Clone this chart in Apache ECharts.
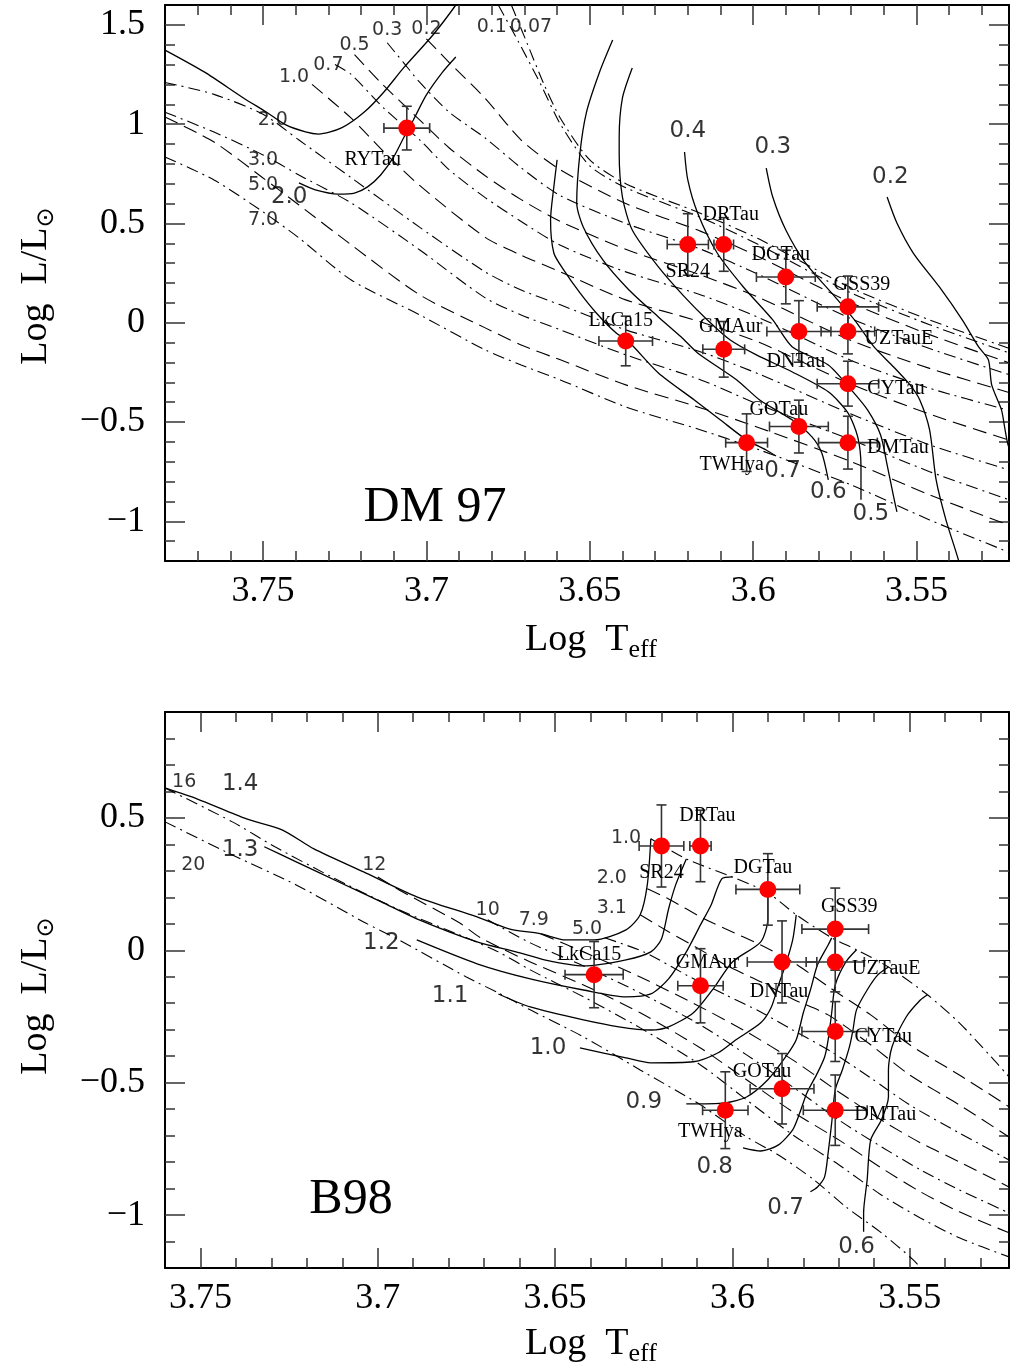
<!DOCTYPE html>
<html><head><meta charset="utf-8">
<script src="https://cdn.jsdelivr.net/npm/echarts@6/dist/echarts.min.js"></script>
<style>html,body{margin:0;padding:0;background:#fff}#c{width:1010px;height:1370px}</style>
</head><body><div id="c"></div>
<script>
// ---------------- DATA ----------------
const starNames = ['RYTau','SR24','DRTau','DGTau','GSS39','UZTauE','DNTau','GMAur','LkCa15','CYTau','GOTau','DMTau','TWHya'];
const starTeff  = [3.706,3.620,3.609,3.590,3.571,3.571,3.586,3.609,3.639,3.571,3.586,3.571,3.602];
const starLogL  = [0.98,0.394,0.394,0.23,0.08,-0.044,-0.044,-0.134,-0.092,-0.307,-0.523,-0.604,-0.604];
const starTeffErr = [0.007,0.0063,0.003,0.009,0.0094,0.0082,0.0098,0.0064,0.0082,0.0094,0.009,0.009,0.0064];
const starLogLErr = [0.11,0.155,0.135,0.135,0.155,0.113,0.155,0.14,0.125,0.113,0.133,0.133,0.145];

// DM97 mass tracks
const dmTrackHi = [[3.780,1.373],[3.768,1.263],[3.756,1.132],[3.749,1.061],[3.743,0.996],[3.737,0.961],[3.733,0.950],[3.726,0.981],[3.719,1.061],[3.713,1.162],[3.707,1.283],[3.698,1.449],[3.691,1.600],[3.688,1.68]];
const dmTrack20 = [[3.739,0.704],[3.734,0.669],[3.727,0.648],[3.722,0.653],[3.718,0.684],[3.714,0.744],[3.710,0.835],[3.707,0.930],[3.704,1.021],[3.700,1.147],[3.695,1.263],[3.691,1.338]];
const dmTrack07 = [[3.660,0.820],[3.661,0.684],[3.662,0.518],[3.661,0.351],[3.658,0.266],[3.653,0.150],[3.648,0.049],[3.642,-0.051],[3.638,-0.097],[3.629,-0.253],[3.618,-0.389],[3.610,-0.490],[3.602,-0.590],[3.596,-0.641],[3.593,-0.671]];
const dmTrack06 = [[3.643,1.424],[3.647,1.263],[3.651,1.061],[3.653,0.855],[3.654,0.603],[3.652,0.482],[3.646,0.316],[3.638,0.165],[3.629,0.029],[3.622,-0.072],[3.617,-0.152],[3.605,-0.288],[3.598,-0.389],[3.588,-0.490],[3.582,-0.575],[3.579,-0.656],[3.577,-0.792]];
const dmTrack05 = [[3.637,1.283],[3.640,1.132],[3.641,0.930],[3.641,0.855],[3.640,0.633],[3.637,0.467],[3.629,0.281],[3.621,0.130],[3.614,0.014],[3.607,-0.087],[3.599,-0.162],[3.588,-0.248],[3.577,-0.348],[3.571,-0.454],[3.568,-0.575],[3.567,-0.726],[3.567,-0.892]];
const dmTrack04 = [[3.621,0.860],[3.620,0.719],[3.617,0.553],[3.611,0.351],[3.603,0.180],[3.594,0.014],[3.588,-0.122],[3.577,-0.213],[3.570,-0.338],[3.565,-0.439],[3.561,-0.565],[3.559,-0.716],[3.557,-0.877],[3.556,-0.953]];
const dmTrack03 = [[3.596,0.779],[3.594,0.633],[3.590,0.467],[3.584,0.301],[3.576,0.150],[3.569,0.014],[3.563,-0.122],[3.557,-0.223],[3.552,-0.313],[3.549,-0.389],[3.546,-0.540],[3.544,-0.792],[3.541,-0.993],[3.537,-1.205],[3.536,-1.30]];
const dmTrack02 = [[3.559,0.633],[3.556,0.502],[3.551,0.351],[3.543,0.180],[3.536,0.014],[3.531,-0.122],[3.528,-0.187],[3.527,-0.313],[3.524,-0.439],[3.523,-0.530],[3.522,-0.615],[3.520,-0.691]];

// DM97 isochrones (Myr)
const dmIso007 = [[3.674,1.60],[3.669,1.40],[3.664,1.20],[3.659,1.03],[3.650,0.82],[3.639,0.70],[3.616,0.55],[3.598,0.42],[3.570,0.175],[3.546,0.014],[3.522,-0.127]];
const dmIso01  = [[3.678,1.60],[3.672,1.42],[3.665,1.20],[3.659,1.00],[3.650,0.79],[3.639,0.68],[3.616,0.53],[3.598,0.39],[3.570,0.15],[3.546,-0.01],[3.522,-0.15]];
const dmIso02  = [[3.700,1.43],[3.693,1.31],[3.682,1.13],[3.671,0.92],[3.659,0.77],[3.639,0.60],[3.616,0.46],[3.598,0.33],[3.570,0.10],[3.546,-0.06],[3.522,-0.20]];
const dmIso03  = [[3.712,1.41],[3.707,1.31],[3.702,1.21],[3.693,1.06],[3.682,0.93],[3.671,0.78],[3.659,0.64],[3.639,0.50],[3.616,0.37],[3.598,0.24],[3.570,0.02],[3.546,-0.13],[3.522,-0.26]];
const dmIso05  = [[3.722,1.35],[3.714,1.21],[3.702,1.02],[3.693,0.88],[3.682,0.74],[3.671,0.62],[3.659,0.51],[3.639,0.37],[3.616,0.24],[3.598,0.125],[3.570,-0.09],[3.546,-0.23],[3.522,-0.35]];
const dmIso07  = [[3.728,1.30],[3.723,1.25],[3.713,1.08],[3.702,0.92],[3.693,0.77],[3.682,0.63],[3.671,0.51],[3.659,0.39],[3.639,0.256],[3.616,0.14],[3.598,0.024],[3.570,-0.19],[3.546,-0.33],[3.522,-0.44]];
const dmIso10  = [[3.735,1.20],[3.723,1.03],[3.713,0.86],[3.702,0.69],[3.682,0.43],[3.671,0.34],[3.659,0.256],[3.639,0.115],[3.616,0.004],[3.598,-0.10],[3.570,-0.31],[3.546,-0.46],[3.522,-0.59]];
const dmIso20  = [[3.780,1.21],[3.765,1.15],[3.750,1.05],[3.739,0.92],[3.723,0.73],[3.702,0.48],[3.682,0.256],[3.671,0.165],[3.659,0.09],[3.639,-0.036],[3.616,-0.147],[3.598,-0.26],[3.570,-0.46],[3.546,-0.615],[3.522,-0.74]];
const dmIso30  = [[3.780,1.06],[3.765,0.96],[3.750,0.845],[3.739,0.744],[3.723,0.603],[3.702,0.366],[3.682,0.125],[3.671,0.039],[3.659,-0.036],[3.639,-0.162],[3.616,-0.288],[3.598,-0.414],[3.570,-0.59],[3.546,-0.75],[3.522,-0.89]];
const dmIso50  = [[3.780,1.036],[3.765,0.91],[3.750,0.729],[3.739,0.593],[3.723,0.392],[3.702,0.14],[3.682,-0.026],[3.671,-0.112],[3.659,-0.187],[3.639,-0.313],[3.616,-0.429],[3.598,-0.53],[3.570,-0.70],[3.546,-0.867],[3.522,-1.018]];
const dmIso70  = [[3.780,0.835],[3.765,0.719],[3.750,0.558],[3.739,0.427],[3.723,0.215],[3.702,0.039],[3.682,-0.137],[3.671,-0.213],[3.659,-0.288],[3.639,-0.424],[3.616,-0.54],[3.598,-0.641],[3.570,-0.817],[3.546,-0.993],[3.522,-1.154]];

// B98 mass tracks
const bTrack14 = [[3.760,0.613],[3.751,0.572],[3.737,0.496],[3.727,0.455],[3.718,0.383],[3.704,0.296],[3.689,0.202],[3.672,0.126],[3.663,0.081],[3.654,0.062],[3.647,0.039],[3.639,0.039],[3.630,0.077],[3.626,0.134],[3.624,0.247],[3.623,0.421]];
const bTrack13 = [[3.732,0.391],[3.723,0.334],[3.711,0.258],[3.699,0.183],[3.689,0.119],[3.672,0.032],[3.661,-0.006],[3.653,-0.036],[3.642,-0.059],[3.630,-0.036],[3.623,-0.006],[3.620,0.043],[3.618,0.156],[3.616,0.247],[3.613,0.345]];
const bTrack12 = [[3.689,0.039],[3.672,-0.051],[3.657,-0.108],[3.642,-0.150],[3.630,-0.176],[3.623,-0.165],[3.618,-0.108],[3.613,-0.006],[3.609,0.096],[3.606,0.171],[3.603,0.270],[3.600,0.277]];
const bTrack11 = [[3.666,-0.165],[3.657,-0.214],[3.642,-0.263],[3.632,-0.289],[3.623,-0.301],[3.618,-0.289],[3.611,-0.236],[3.605,-0.138],[3.600,-0.044],[3.592,0.032],[3.590,0.119],[3.590,0.217]];
const bTrack10 = [[3.643,-0.369],[3.630,-0.406],[3.623,-0.425],[3.611,-0.421],[3.604,-0.387],[3.599,-0.338],[3.592,-0.274],[3.589,-0.214],[3.587,-0.131],[3.585,-0.055],[3.583,0.039],[3.582,0.134]];
const bTrack09 = [[3.613,-0.580],[3.602,-0.576],[3.596,-0.554],[3.590,-0.489],[3.585,-0.403],[3.582,-0.338],[3.580,-0.236],[3.578,-0.150],[3.576,-0.055],[3.573,0.020],[3.572,0.047]];
const bTrack08 = [[3.597,-0.746],[3.592,-0.758],[3.587,-0.735],[3.583,-0.678],[3.581,-0.614],[3.579,-0.539],[3.576,-0.463],[3.574,-0.403],[3.573,-0.338],[3.572,-0.236],[3.571,-0.131],[3.568,-0.044],[3.565,0.002]];
const bTrack07 = [[3.578,-0.912],[3.576,-0.894],[3.574,-0.856],[3.573,-0.765],[3.572,-0.652],[3.571,-0.527],[3.569,-0.452],[3.567,-0.365],[3.566,-0.301],[3.565,-0.225],[3.562,-0.150],[3.559,-0.093],[3.556,-0.063]];
const bTrack06 = [[3.563,-1.063],[3.563,-0.992],[3.562,-0.867],[3.561,-0.716],[3.558,-0.641],[3.556,-0.554],[3.556,-0.452],[3.555,-0.365],[3.551,-0.252],[3.547,-0.188],[3.545,-0.168]];

// B98 isochrones (Myr)
const bIso10  = [[3.623,0.421],[3.613,0.345],[3.600,0.277],[3.590,0.217],[3.582,0.134],[3.572,0.047],[3.565,0.002],[3.556,-0.063],[3.545,-0.168],[3.536,-0.274],[3.527,-0.403],[3.522,-0.478]];
const bIso20  = [[3.624,0.232],[3.618,0.194],[3.608,0.119],[3.602,0.081],[3.592,0.020],[3.583,-0.044],[3.572,-0.146],[3.561,-0.244],[3.550,-0.357],[3.536,-0.471],[3.522,-0.591]];
const bIso31  = [[3.626,0.134],[3.618,0.070],[3.608,-0.006],[3.602,-0.055],[3.592,-0.119],[3.583,-0.184],[3.573,-0.244],[3.561,-0.357],[3.550,-0.471],[3.536,-0.584],[3.522,-0.705]];
const bIso50  = [[3.636,0.047],[3.625,-0.006],[3.613,-0.093],[3.602,-0.168],[3.592,-0.233],[3.583,-0.301],[3.572,-0.384],[3.561,-0.482],[3.550,-0.584],[3.536,-0.690],[3.522,-0.792]];
const bIso79  = [[3.654,0.062],[3.642,-0.006],[3.626,-0.101],[3.609,-0.214],[3.596,-0.308],[3.583,-0.414],[3.570,-0.535],[3.558,-0.641],[3.547,-0.727],[3.536,-0.799],[3.522,-0.894]];
const bIso100 = [[3.669,0.115],[3.657,0.028],[3.642,-0.059],[3.626,-0.161],[3.609,-0.282],[3.596,-0.395],[3.583,-0.516],[3.570,-0.641],[3.558,-0.742],[3.547,-0.829],[3.536,-0.905],[3.522,-0.992]];
const bIso120 = [[3.700,0.277],[3.694,0.228],[3.677,0.104],[3.671,0.047],[3.657,-0.044],[3.642,-0.131],[3.626,-0.236],[3.609,-0.369],[3.596,-0.489],[3.583,-0.610],[3.570,-0.716],[3.558,-0.822],[3.547,-0.912],[3.536,-0.988],[3.522,-1.067]];
const bIso160 = [[3.760,0.613],[3.741,0.485],[3.729,0.391],[3.713,0.277],[3.694,0.153],[3.675,0.047],[3.666,-0.006],[3.657,-0.074],[3.642,-0.176],[3.626,-0.293],[3.609,-0.433],[3.596,-0.565],[3.583,-0.697],[3.570,-0.810],[3.558,-0.924],[3.547,-1.011],[3.536,-1.086],[3.522,-1.158]];
const bIso200 = [[3.760,0.485],[3.741,0.360],[3.723,0.247],[3.704,0.107],[3.694,0.039],[3.675,-0.101],[3.666,-0.161],[3.657,-0.225],[3.642,-0.327],[3.626,-0.452],[3.609,-0.584],[3.596,-0.705],[3.587,-0.773],[3.577,-0.867],[3.568,-0.969],[3.558,-1.067],[3.549,-1.169],[3.546,-1.215]];

// curve annotations [text, logTeff, logL]
const dmIsoLabels = [['0.07',3.668,1.489],['0.1',3.680,1.489],['0.2',3.700,1.479],['0.3',3.712,1.474],['0.5',3.722,1.399],['0.7',3.730,1.298],['1.0',3.7405,1.238],['2.0',3.747,1.021],['3.0',3.750,0.820],['5.0',3.750,0.694],['7.0',3.750,0.518]];
const dmMassLabels = [['2.0',3.742,0.633],['0.4',3.620,0.966],['0.3',3.594,0.885],['0.2',3.558,0.734],['0.7',3.591,-0.746],['0.6',3.577,-0.852],['0.5',3.564,-0.963]];
const bIsoLabels = [['16',3.7546,0.636],['20',3.752,0.3225],['12',3.701,0.3225],['10',3.669,0.153],['7.9',3.656,0.115],['5.0',3.641,0.081],['3.1',3.634,0.160],['2.0',3.634,0.273],['1.0',3.630,0.4245]];
const bMassLabels = [['1.4',3.7388,0.628],['1.3',3.7388,0.379],['1.2',3.699,0.028],['1.1',3.6796,-0.172],['1.0',3.652,-0.369],['0.9',3.625,-0.572],['0.8',3.605,-0.818],['0.7',3.585,-0.974],['0.6',3.565,-1.121]];

// tick values
const xMajorTicks = [3.55,3.6,3.65,3.7,3.75];
const xMinorTop = [3.53,3.54,3.55,3.56,3.57,3.58,3.59,3.60,3.61,3.62,3.63,3.64,3.65,3.66,3.67,3.68,3.69,3.70,3.71,3.72,3.73,3.74,3.75,3.76,3.77];
const xMinorBot = [3.53,3.54,3.55,3.56,3.57,3.58,3.59,3.60,3.61,3.62,3.63,3.64,3.65,3.66,3.67,3.68,3.69,3.70,3.71,3.72,3.73,3.74,3.75];
const yMajorTop = [-1,-0.5,0,0.5,1,1.5];
const yMinorTop = [-1.1,-1.0,-0.9,-0.8,-0.7,-0.6,-0.5,-0.4,-0.3,-0.2,-0.1,0,0.1,0.2,0.3,0.4,0.5,0.6,0.7,0.8,0.9,1.0,1.1,1.2,1.3,1.4,1.5];
const yMajorBot = [-1,-0.5,0,0.5];
const yMinorBot = [-1.1,-1.0,-0.9,-0.8,-0.7,-0.6,-0.5,-0.4,-0.3,-0.2,-0.1,0,0.1,0.2,0.3,0.4,0.5,0.6,0.7,0.8];

// ---------------- STYLE ----------------
const SERIF = 'Liberation Serif';
const SANS = 'DejaVu Sans';
const DASH = [14,7];
const DASHDOT = [12,5,2,5];
const starLabelOffsets = [[-34,32],[0,27],[7,-30],[-5,-22],[14,-22],[51,7],[-3,30],[7,-23],[-5,-20],[48,5],[-20,-17],[50,5],[-15,22]];

const panels = [
  {grid:{left:165, top:5, width:844, height:556}, xr:[3.5217,3.78], yr:[-1.2,1.6], xMinor:xMinorTop, yMajor:yMajorTop, yMinor:yMinorTop,
   tracks:[dmTrackHi,dmTrack20,dmTrack07,dmTrack06,dmTrack05,dmTrack04,dmTrack03,dmTrack02],
   isos:[[dmIso007,DASHDOT],[dmIso01,DASHDOT],[dmIso02,DASH],[dmIso03,DASHDOT],[dmIso05,DASH],[dmIso07,DASHDOT],[dmIso10,DASH],[dmIso20,DASHDOT],[dmIso30,DASHDOT],[dmIso50,DASH],[dmIso70,DASHDOT]],
   small:dmIsoLabels, big:dmMassLabels},
  {grid:{left:165, top:712, width:844, height:556}, xr:[3.522,3.76], yr:[-1.2,0.9], xMinor:xMinorBot, yMajor:yMajorBot, yMinor:yMinorBot,
   tracks:[bTrack14,bTrack13,bTrack12,bTrack11,bTrack10,bTrack09,bTrack08,bTrack07,bTrack06],
   isos:[[bIso10,DASHDOT],[bIso20,DASH],[bIso31,DASH],[bIso50,DASHDOT],[bIso79,DASH],[bIso100,DASHDOT],[bIso120,DASH],[bIso160,DASHDOT],[bIso200,DASHDOT]],
   small:bIsoLabels, big:bMassLabels}
];

const fmtY = v => v < 0 ? '\u2212' + Math.abs(v) : String(v);
const frameLine = {show:true, onZero:false, lineStyle:{color:'#000', width:2}};
const tickStyle = {color:'#333', width:1.5};

const option = {animation:false, backgroundColor:'#fff', grid:[], xAxis:[], yAxis:[], series:[], graphic:[]};

panels.forEach((p, gi) => {
  option.grid.push(Object.assign({containLabel:false, outerBoundsMode:'none'}, p.grid));
  const cx = {gridIndex:gi, type:'value', inverse:true, min:p.xr[0], max:p.xr[1], splitLine:{show:false}, axisPointer:{show:false}};
  const cy = {gridIndex:gi, type:'value', min:p.yr[0], max:p.yr[1], splitLine:{show:false}, axisPointer:{show:false}};
  option.xAxis.push(
    Object.assign({}, cx, {position:'bottom', axisLine:frameLine,
      axisTick:{show:true, inside:true, length:20, customValues:xMajorTicks, lineStyle:tickStyle},
      axisLabel:{show:true, customValues:xMajorTicks, formatter:v=>String(v), fontFamily:SERIF, fontSize:36, color:'#000', margin:13}}),
    Object.assign({}, cx, {position:'bottom', axisLine:{show:false, onZero:false},
      axisTick:{show:true, inside:true, length:10, customValues:p.xMinor, lineStyle:tickStyle}, axisLabel:{show:false}}),
    Object.assign({}, cx, {position:'top', axisLine:frameLine,
      axisTick:{show:true, inside:true, length:20, customValues:xMajorTicks, lineStyle:tickStyle}, axisLabel:{show:false}}),
    Object.assign({}, cx, {position:'top', axisLine:{show:false, onZero:false},
      axisTick:{show:true, inside:true, length:10, customValues:p.xMinor, lineStyle:tickStyle}, axisLabel:{show:false}})
  );
  option.yAxis.push(
    Object.assign({}, cy, {position:'left', axisLine:frameLine,
      axisTick:{show:true, inside:true, length:20, customValues:p.yMajor, lineStyle:tickStyle},
      axisLabel:{show:true, customValues:p.yMajor, formatter:fmtY, fontFamily:SERIF, fontSize:36, color:'#000', margin:20}}),
    Object.assign({}, cy, {position:'left', axisLine:{show:false, onZero:false},
      axisTick:{show:true, inside:true, length:10, customValues:p.yMinor, lineStyle:tickStyle}, axisLabel:{show:false}}),
    Object.assign({}, cy, {position:'right', axisLine:frameLine,
      axisTick:{show:true, inside:true, length:20, customValues:p.yMajor, lineStyle:tickStyle}, axisLabel:{show:false}}),
    Object.assign({}, cy, {position:'right', axisLine:{show:false, onZero:false},
      axisTick:{show:true, inside:true, length:10, customValues:p.yMinor, lineStyle:tickStyle}, axisLabel:{show:false}})
  );
  const ax = {xAxisIndex:gi*4, yAxisIndex:gi*4};
  p.tracks.forEach(t => option.series.push(Object.assign({type:'line', data:t, showSymbol:false, symbol:'none', smooth:0.25, clip:true, silent:true, z:2,
    lineStyle:{color:'#000', width:1.3}}, ax)));
  p.isos.forEach(([d, dash]) => option.series.push(Object.assign({type:'line', data:d, showSymbol:false, symbol:'none', smooth:0.25, clip:true, silent:true, z:2,
    lineStyle:{color:'#000', width:1.1, type:dash}}, ax)));
  // curve annotations
  const txt = (arr, size) => Object.assign({type:'scatter', silent:true, z:6, symbolSize:1, itemStyle:{color:'rgba(0,0,0,0)'},
    data: arr.map(a => ({name:a[0], value:[a[1], a[2]]})),
    label:{show:true, position:'inside', formatter:'{b}', fontFamily:SANS, fontSize:size, color:'#000'}}, ax);
  option.series.push(txt(p.small, 19), txt(p.big, 23));
  // stars inside this panel
  const idx = starNames.map((n,i)=>i).filter(i => starLogL[i] <= p.yr[1] && starLogL[i] >= p.yr[0] && starTeff[i] >= p.xr[0] && starTeff[i] <= p.xr[1]);
  option.series.push(Object.assign({type:'custom', silent:true, z:4, clip:true,
    data: idx.map(i => [starTeff[i], starLogL[i], starTeffErr[i], starLogLErr[i]]),
    encode:{x:0, y:1},
    renderItem:(params, api) => {
      const x = api.value(0), y = api.value(1), ex = api.value(2), ey = api.value(3);
      const c = api.coord([x, y]);
      const l = api.coord([x + ex, y]), r = api.coord([x - ex, y]);
      const t = api.coord([x, y + ey]), b = api.coord([x, y - ey]);
      const cap = 5, st = {stroke:'#333', lineWidth:1.6, fill:null};
      const ln = (x1,y1,x2,y2) => ({type:'line', shape:{x1,y1,x2,y2}, style:st});
      return {type:'group', children:[
        ln(l[0],c[1],r[0],c[1]), ln(c[0],t[1],c[0],b[1]),
        ln(l[0],c[1]-cap,l[0],c[1]+cap), ln(r[0],c[1]-cap,r[0],c[1]+cap),
        ln(c[0]-cap,t[1],c[0]+cap,t[1]), ln(c[0]-cap,b[1],c[0]+cap,b[1])]};
    }}, ax));
  option.series.push(Object.assign({type:'scatter', silent:true, z:5, symbol:'circle', symbolSize:17, itemStyle:{color:'#ff0000', opacity:1},
    data: idx.map(i => ({name:starNames[i], value:[starTeff[i], starLogL[i]], label:{offset:starLabelOffsets[i]}})),
    label:{show:true, position:'inside', formatter:'{b}', fontFamily:SERIF, fontSize:20, color:'#000'}}, ax));
});

// axis titles and panel names
const titleRich = {a:{fontFamily:SERIF, fontSize:38, lineHeight:50, verticalAlign:'middle', fill:'#000', color:'#000'},
                   b:{fontFamily:SERIF, fontSize:26, lineHeight:50, verticalAlign:'bottom', fill:'#000', color:'#000', padding:[0,0,2,0]}};
const ytitleRich = {a:{fontFamily:SERIF, fontSize:38, lineHeight:50, verticalAlign:'middle', fill:'#000', color:'#000'},
                    b:{fontFamily:SANS, fontSize:24, lineHeight:50, verticalAlign:'bottom', fill:'#000', color:'#000', padding:[0,0,2,0]}};
function ttl(x, y, text, rich, rot) {
  return {type:'text', x, y, rotation:rot||0, silent:true,
    style:{text, rich, align:'center', verticalAlign:'middle', textAlign:'center', textVerticalAlign:'middle', fill:'#000'}};
}
option.graphic = [
  ttl(591, 640, '{a|Log  T}{b|eff}', titleRich),
  ttl(591, 1344, '{a|Log  T}{b|eff}', titleRich),
  ttl(36, 286, '{a|Log  L/L}{b|\u2299}', ytitleRich, Math.PI/2),
  ttl(36, 996, '{a|Log  L/L}{b|\u2299}', ytitleRich, Math.PI/2),
  {type:'text', x:435, y:508, silent:true, style:{text:'DM 97', font:'50px "Liberation Serif"', fill:'#000', align:'center', verticalAlign:'middle', textAlign:'center', textVerticalAlign:'middle'}},
  {type:'text', x:351, y:1200, silent:true, style:{text:'B98', font:'50px "Liberation Serif"', fill:'#000', align:'center', verticalAlign:'middle', textAlign:'center', textVerticalAlign:'middle'}}
];

const chart = echarts.init(document.getElementById('c'), null, {renderer:'canvas', width:1010, height:1370});
chart.setOption(option);
</script></body></html>
